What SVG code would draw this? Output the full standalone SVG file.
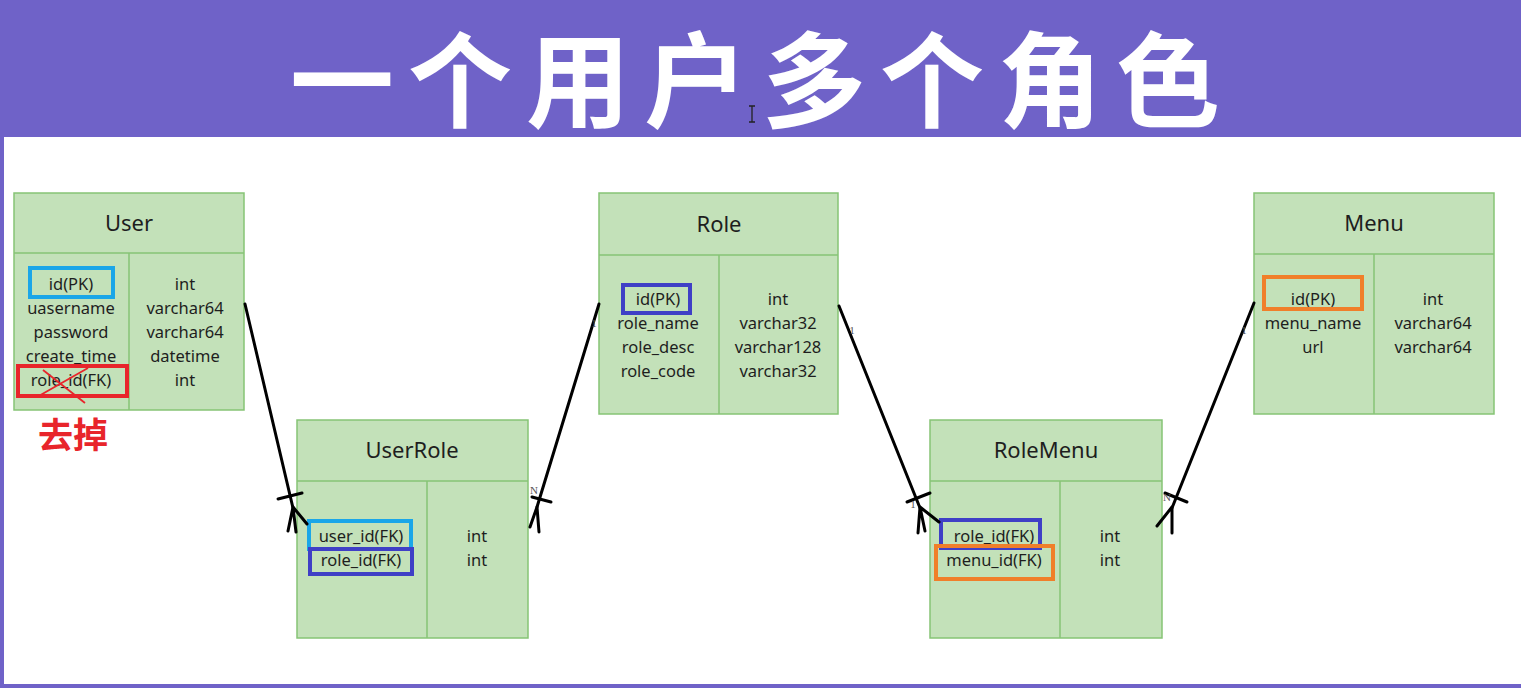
<svg xmlns="http://www.w3.org/2000/svg" width="1521" height="688" viewBox="0 0 1521 688">
<style>
.tbl{fill:#c3e1b9;stroke:#86c475;stroke-width:1.5}
.div{stroke:#86c475;stroke-width:1.5;fill:none}
.title{font-family:"Noto Sans","Open Sans",sans-serif;font-size:22px;fill:#1e1e1e;text-anchor:middle}
.fld{font-family:"Noto Sans","Open Sans",sans-serif;font-size:16.5px;fill:#1e1e1e;text-anchor:middle}
.lbl{font-family:"Liberation Serif",serif;font-size:11px;fill:#555;text-anchor:middle}
.hl{fill:none;stroke-width:4}
.conn{stroke:#000;stroke-width:3;fill:none;stroke-linecap:round}
</style>
<rect x="0" y="0" width="1521" height="688" fill="#6f62c8"/>
<rect x="4" y="137" width="1517" height="547" fill="#ffffff"/>
<text x="762" y="120" font-family="'Noto Sans CJK SC',sans-serif" font-size="104" font-weight="bold" fill="#ffffff" text-anchor="middle" letter-spacing="14">一个用户多个角色</text>
<path d="M749,106 h6 M752,106 v16 M749,122 h6" stroke="#222" stroke-width="1.3" fill="none"/>

<g id="User">
<rect class="tbl" x="14" y="193" width="230" height="217"/>
<path class="div" d="M14,253 H244 M129,253 V410"/>
<text class="title" x="129" y="231">User</text>
<text class="fld" x="71" y="290">id(PK)</text>
<text class="fld" x="71" y="314">uasername</text>
<text class="fld" x="71" y="338">password</text>
<text class="fld" x="71" y="362">create_time</text>
<text class="fld" x="71" y="386">role_id(FK)</text>
<text class="fld" x="185" y="290">int</text>
<text class="fld" x="185" y="314">varchar64</text>
<text class="fld" x="185" y="338">varchar64</text>
<text class="fld" x="185" y="362">datetime</text>
<text class="fld" x="185" y="386">int</text>
<rect class="hl" stroke="#1aa6e8" x="30" y="268" width="83" height="29"/>
<rect class="hl" stroke="#e8252b" x="18" y="366" width="109" height="30"/>
<path d="M37,397 L88,368 M43,370 L85,403" stroke="#e8252b" stroke-width="1.8" fill="none"/>
<text x="73" y="448" font-family="'Noto Sans CJK SC',sans-serif" font-size="35" font-weight="bold" fill="#e8252b" text-anchor="middle">去掉</text>
</g>

<g id="UserRole">
<rect class="tbl" x="297" y="420" width="231" height="218"/>
<path class="div" d="M297,481 H528 M427,481 V638"/>
<text class="title" x="412" y="458">UserRole</text>
<text class="fld" x="361" y="542">user_id(FK)</text>
<text class="fld" x="361" y="566">role_id(FK)</text>
<text class="fld" x="477" y="542">int</text>
<text class="fld" x="477" y="566">int</text>
<rect class="hl" stroke="#1aa6e8" x="309" y="521" width="102" height="28"/>
<rect class="hl" stroke="#3f3fc6" x="310" y="549" width="102" height="25"/>
</g>

<g id="Role">
<rect class="tbl" x="599" y="193" width="239" height="221"/>
<path class="div" d="M599,255 H838 M719,255 V414"/>
<text class="title" x="719" y="232">Role</text>
<text class="fld" x="658" y="305">id(PK)</text>
<text class="fld" x="658" y="329">role_name</text>
<text class="fld" x="658" y="353">role_desc</text>
<text class="fld" x="658" y="377">role_code</text>
<text class="fld" x="778" y="305">int</text>
<text class="fld" x="778" y="329">varchar32</text>
<text class="fld" x="778" y="353">varchar128</text>
<text class="fld" x="778" y="377">varchar32</text>
<rect class="hl" stroke="#3f3fc6" x="623" y="285" width="67" height="28"/>
</g>

<g id="RoleMenu">
<rect class="tbl" x="930" y="420" width="232" height="218"/>
<path class="div" d="M930,481 H1162 M1060,481 V638"/>
<text class="title" x="1046" y="458">RoleMenu</text>
<text class="fld" x="994" y="542">role_id(FK)</text>
<text class="fld" x="994" y="566">menu_id(FK)</text>
<text class="fld" x="1110" y="542">int</text>
<text class="fld" x="1110" y="566">int</text>
<rect class="hl" stroke="#3f3fc6" x="941" y="520" width="99" height="28"/>
<rect class="hl" stroke="#f07f2a" x="936" y="546" width="117" height="33"/>
</g>

<g id="Menu">
<rect class="tbl" x="1254" y="193" width="240" height="221"/>
<path class="div" d="M1254,254 H1494 M1374,254 V414"/>
<text class="title" x="1374" y="231">Menu</text>
<text class="fld" x="1313" y="305">id(PK)</text>
<text class="fld" x="1313" y="329">menu_name</text>
<text class="fld" x="1313" y="353">url</text>
<text class="fld" x="1433" y="305">int</text>
<text class="fld" x="1433" y="329">varchar64</text>
<text class="fld" x="1433" y="353">varchar64</text>
<rect class="hl" stroke="#f07f2a" x="1264" y="277" width="98" height="32"/>
</g>

<g id="connectors">
<path class="conn" d="M245,304 L293,508"/>
<path class="conn" d="M278,499 L302,493"/>
<path class="conn" d="M293,507 L288,531 M293,507 L296,532 M293,507 L307,524"/>

<path class="conn" d="M599,304 L537,507"/>
<path class="conn" d="M532,497 L551,502"/>
<path class="conn" d="M537,507 L530,527 M537,507 L539,532"/>
<text class="lbl" x="534" y="494">N</text>
<text class="lbl" x="594" y="327">1</text>

<path class="conn" d="M839,306 L920,508"/>
<path class="conn" d="M907,502 L930,493"/>
<path class="conn" d="M920,507 L918,533 M920,507 L925,531 M920,507 L939,522"/>
<text class="lbl" x="852" y="334">1</text>
<text class="lbl" x="913" y="508">1</text>

<path class="conn" d="M1254,303 L1172,508"/>
<path class="conn" d="M1165,493 L1187,502"/>
<path class="conn" d="M1172,507 L1172,533 M1172,507 L1157,526"/>
<text class="lbl" x="1244" y="334">1</text>
<text class="lbl" x="1167" y="501">N</text>
</g>
</svg>
